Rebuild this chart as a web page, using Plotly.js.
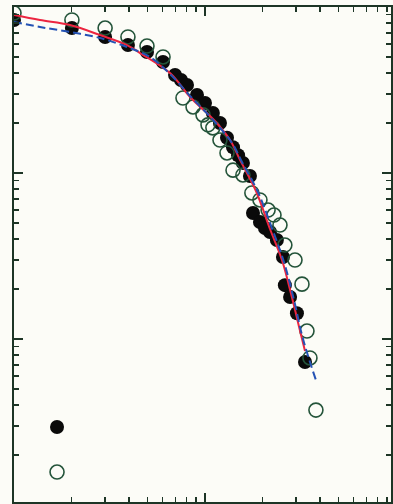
<!DOCTYPE html>
<html>
<head>
<meta charset="utf-8">
<script src="https://cdn.plot.ly/plotly-3.0.1.min.js"></script>
<style>html,body{margin:0;padding:0;background:#fcfcf7;}#chart{width:393px;height:504px;}</style>
</head>
<body>
<div id="chart"></div>
<script>
// Filled-circle series
var filledX = [1.00, 2.01, 3.00, 3.95, 4.97, 6.03, 6.97, 7.49, 8.05, 9.08, 10.0, 11.0, 11.98, 13.04, 14.02, 14.9, 15.8, 17.2, 17.84, 19.4, 20.6, 21.9, 23.8, 25.6, 26.2, 27.9, 30.3, 33.4];
var filledY = [0.835, 0.747, 0.660, 0.590, 0.536, 0.466, 0.389, 0.363, 0.339, 0.295, 0.264, 0.230, 0.200, 0.163, 0.143, 0.128, 0.115, 0.0959, 0.0574, 0.0507, 0.0466, 0.0441, 0.0395, 0.0312, 0.0211, 0.0179, 0.0143, 0.00727];
// Open-circle series
var openX = [1.00, 2.01, 3.00, 3.95, 4.97, 6.03, 7.67, 8.66, 9.76, 10.37, 11.0, 11.98, 13.04, 14.02, 15.8, 17.6, 19.4, 21.4, 22.98, 24.7, 26.2, 29.6, 32.2, 34.2, 35.45, 38.1];
var openY = [0.920, 0.835, 0.747, 0.660, 0.582, 0.500, 0.283, 0.250, 0.224, 0.195, 0.187, 0.158, 0.132, 0.104, 0.0973, 0.0758, 0.0688, 0.0598, 0.0558, 0.0486, 0.0368, 0.0299, 0.0214, 0.01117, 0.00769, 0.00373];
// Fit curves
var redX = [1.0, 1.368, 1.965, 2.82, 3.905, 4.57, 6.56, 8.35, 11.15, 13.52, 15.25, 18.49, 21.9, 25.3, 28.5, 31.4, 33.4];
var redY = [0.895, 0.835, 0.779, 0.678, 0.590, 0.528, 0.400, 0.287, 0.2086, 0.158, 0.120, 0.0779, 0.0460, 0.0299, 0.0179, 0.0113, 0.00847];
var blueX = [1.0, 1.368, 1.965, 2.82, 3.905, 5.15, 6.56, 8.35, 11.15, 13.85, 15.62, 18.94, 22.4, 25.9, 29.24, 32.2, 35.45, 38.1];
var blueY = [0.812, 0.758, 0.707, 0.651, 0.574, 0.500, 0.395, 0.291, 0.2057, 0.1516, 0.1165, 0.0768, 0.0466, 0.0291, 0.0172, 0.01057, 0.00727, 0.00566];
// Key symbols (legend markers without text)
var keyX = [1.68];
var keyFilledY = [0.00295];
var keyOpenY = [0.00158];

var axisColor = '#1d3526';
var traces = [
  {x: filledX, y: filledY, type: 'scatter', mode: 'markers',
   marker: {symbol: 'circle', size: 14, color: '#0a0a0a'}},
  {x: openX, y: openY, type: 'scatter', mode: 'markers',
   marker: {symbol: 'circle-open', size: 14, color: '#24543a', line: {width: 1.6}}},
  {x: redX, y: redY, type: 'scatter', mode: 'lines',
   line: {color: '#ec2540', width: 2, shape: 'spline'}},
  {x: blueX, y: blueY, type: 'scatter', mode: 'lines',
   line: {color: '#2452b4', width: 2, dash: '8px,4px', shape: 'spline'}},
  {x: keyX, y: keyFilledY, type: 'scatter', mode: 'markers',
   marker: {symbol: 'circle', size: 14, color: '#0a0a0a'}},
  {x: keyX, y: keyOpenY, type: 'scatter', mode: 'markers',
   marker: {symbol: 'circle-open', size: 14, color: '#24543a', line: {width: 1.6}}}
];

var axisCommon = {
  type: 'log', showgrid: false, zeroline: false, showticklabels: false,
  showline: true, linecolor: axisColor, linewidth: 2, mirror: 'ticks',
  ticks: 'inside', ticklen: 9, tickwidth: 2, tickcolor: axisColor, dtick: 1,
  minor: {ticks: 'inside', ticklen: 5, tickwidth: 1.6, tickcolor: axisColor, dtick: 'D1', showgrid: false}
};

var layout = {
  width: 393, height: 504,
  margin: {l: 14, r: 2, t: 7, b: 2},
  paper_bgcolor: '#fcfcf7', plot_bgcolor: '#fcfcf7',
  showlegend: false,
  xaxis: Object.assign({}, axisCommon, {range: [0, 1.974]}),
  yaxis: Object.assign({}, axisCommon, {range: [-2.982, 0]})
};

Plotly.newPlot('chart', traces, layout, {displayModeBar: false, staticPlot: true});
</script>
</body>
</html>
